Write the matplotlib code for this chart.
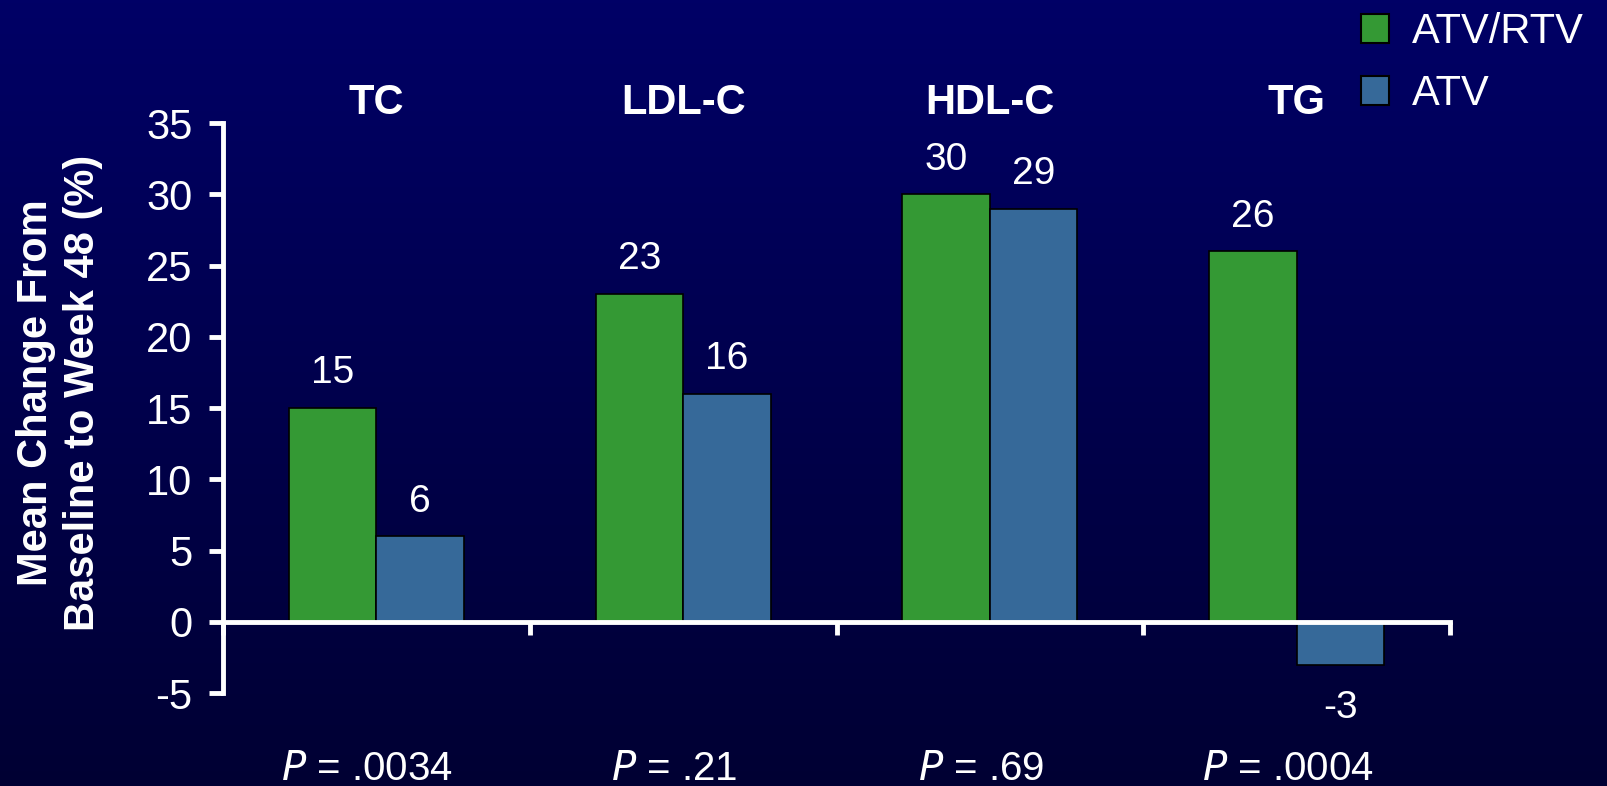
import matplotlib.pyplot as plt
import numpy as np
from matplotlib.patches import Patch
from matplotlib.transforms import blended_transform_factory

plt.rcParams['font.family'] = ['Liberation Sans', 'DejaVu Sans']
plt.rcParams['axes.unicode_minus'] = False

categories = ['TC', 'LDL-C', 'HDL-C', 'TG']
atv_rtv = [15, 23, 30, 26]
atv = [6, 16, 29, -3]
p_values = ['.0034', '.21', '.69', '.0004']
series_names = ['ATV/RTV', 'ATV']

green = '#349934'
blue = '#366999'

fig = plt.figure(figsize=(16.07, 7.86), dpi=100)

# gradient background, navy at the top fading darker at the bottom
bg = fig.add_axes([0, 0, 1, 1], zorder=-10)
grad = np.linspace(0, 1, 256).reshape(-1, 1)
top = np.array([0, 0, 102]) / 255
bottom = np.array([0, 0, 51]) / 255
img = top + (bottom - top) * grad[:, :, None]
bg.imshow(img, aspect='auto', extent=[0, 1, 0, 1])
bg.axis('off')

ax = fig.add_axes([0.1388, 0.1183, 0.7635, 0.7252])
ax.patch.set_alpha(0)

x = np.arange(len(categories))
w = 0.285
b1 = ax.bar(x - w / 2, atv_rtv, w, color=green, edgecolor='black', linewidth=1.2, zorder=2)
b2 = ax.bar(x + w / 2, atv, w, color=blue, edgecolor='black', linewidth=1.2, zorder=2)

for bars, vals in [(b1, atv_rtv), (b2, atv)]:
    for rect, v in zip(bars, vals):
        cx = rect.get_x() + rect.get_width() / 2
        off = 25 if v >= 0 else -31
        ax.annotate(str(v), (cx, v), xytext=(0, off), textcoords='offset points',
                    ha='center', va='center', color='white', fontsize=28)

ax.set_xlim(-0.5, len(categories) - 0.5)
ax.set_ylim(-5, 35)
ax.set_yticks(np.arange(-5, 36, 5))
ax.set_xticks(np.arange(-0.5, len(categories), 1.0))
ax.set_xticklabels([])

for s in ['top', 'right']:
    ax.spines[s].set_visible(False)
ax.spines['bottom'].set_position(('data', 0))
ax.spines['bottom'].set_zorder(3)
for s in ['left', 'bottom']:
    ax.spines[s].set_color('white')
    ax.spines[s].set_linewidth(3.5)
ax.tick_params(axis='y', colors='white', labelsize=30, length=10, width=3.5, direction='out', pad=12)
ax.tick_params(axis='x', colors='white', length=9, width=3.5, direction='out')

trans = blended_transform_factory(ax.transData, ax.transAxes)
for i, (c, p) in enumerate(zip(categories, p_values)):
    ax.text(i, 1.035, c, transform=trans, ha='center', va='center', color='white',
            fontsize=30, fontweight='bold')
    ax.text(i - 0.03, -0.133, r'$\it{P}$ = ' + p, transform=trans, ha='center', va='center',
            color='white', fontsize=29)

fig.text(0.037, 0.5, 'Mean Change From\nBaseline to Week 48 (%)', rotation=90,
         ha='center', va='center', color='white', fontsize=30, fontweight='bold',
         linespacing=1.2)

handles = [Patch(facecolor=green, edgecolor='black', linewidth=1.5),
           Patch(facecolor=blue, edgecolor='black', linewidth=1.5)]
fig.legend(handles, series_names, loc='upper left', bbox_to_anchor=(1361 / 1607, 1 - 12 / 786),
           frameon=False, fontsize=30, labelcolor='white', handlelength=0.67,
           handleheight=0.67, handletextpad=0.55, labelspacing=0.53,
           borderpad=0, borderaxespad=0)

fig.savefig('out.png', dpi=100)
